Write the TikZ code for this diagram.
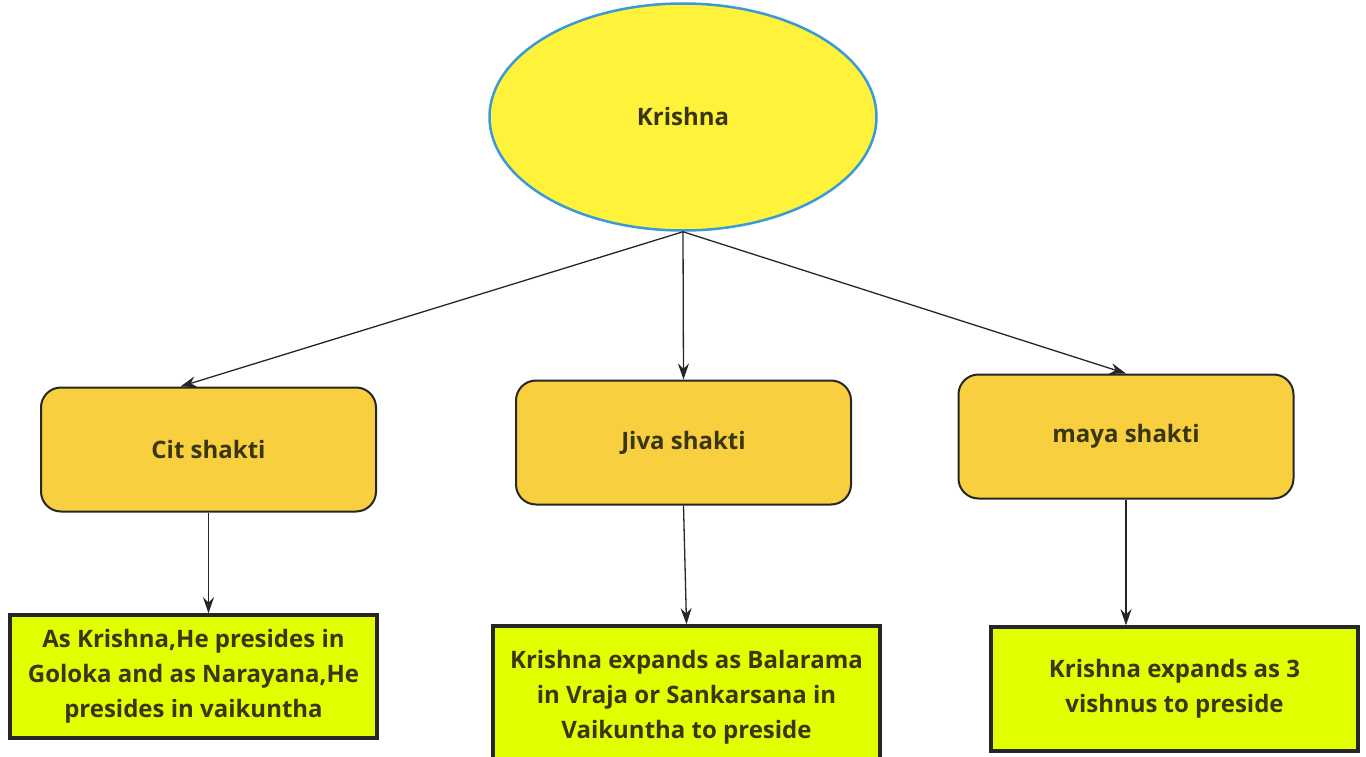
\documentclass[tikz,border=0pt]{standalone}
\usepackage{fontspec}
\setmainfont{Open Sans}
\usetikzlibrary{shapes.geometric,arrows.meta}
\definecolor{inktext}{RGB}{58,54,18}
\definecolor{sunfill}{RGB}{255,242,58}
\definecolor{skyline}{RGB}{58,154,217}
\definecolor{shaktifill}{RGB}{248,207,62}
\definecolor{limefill}{RGB}{226,255,0}
\tikzstyle{lord} = [ellipse, draw=skyline, fill=sunfill, line width=2.5pt, minimum width=387pt, minimum height=227pt, font=\fontsize{24}{34}\selectfont\bfseries, text=inktext]
\tikzstyle{shakti} = [rectangle, rounded corners=20pt, draw=black!85, fill=shaktifill, line width=2pt, minimum width=335pt, minimum height=124pt, font=\fontsize{24}{34}\selectfont\bfseries, text=inktext]
\tikzstyle{role} = [rectangle, draw=black!85, fill=limefill, line width=3.5pt, minimum width=367pt, minimum height=123pt, align=center, font=\fontsize{24}{35}\selectfont\bfseries, text=inktext]
\tikzstyle{link} = [-{Stealth[length=16pt,width=11pt]}, line width=1.3pt, black!85]

\begin{document}
\begin{tikzpicture}[x=1pt,y=-1pt]
\useasboundingbox (0,0) rectangle (1366,757);
% top
\node[lord] (krishna) at (683,117) {Krishna};
% the three energies
\node[shakti] (cit) at (208.5,449.5) {Cit shakti};
\node[shakti] (jiva) at (683.5,442.5) {Jiva shakti};
\node[shakti] (maya) at (1126,436.5) {maya shakti};
% what each one does
\node[role] (goloka) at (193.5,676.5) {As Krishna,He presides in\\Goloka and as Narayana,He\\presides in vaikuntha};
\node[role, minimum width=387pt, minimum height=142pt] (vraja) at (686.5,697) {Krishna expands as Balarama\\in Vraja or Sankarsana in\\Vaikuntha to preside};
\node[role, minimum height=124pt] (vishnu) at (1174.5,689) {Krishna expands as 3\\vishnus to preside};

\draw[link] (krishna.south) -- ([xshift=-28pt]cit.north);
\draw[link] (krishna.south) -- (jiva.north);
\draw[link] (krishna.south) -- (maya.north);
\draw[link] (cit.south) -- (cit.south |- goloka.north);
\draw[link] (jiva.south) -- (vraja.north);
\draw[link] (maya.south) -- (maya.south |- vishnu.north);
\end{tikzpicture}
\end{document}
